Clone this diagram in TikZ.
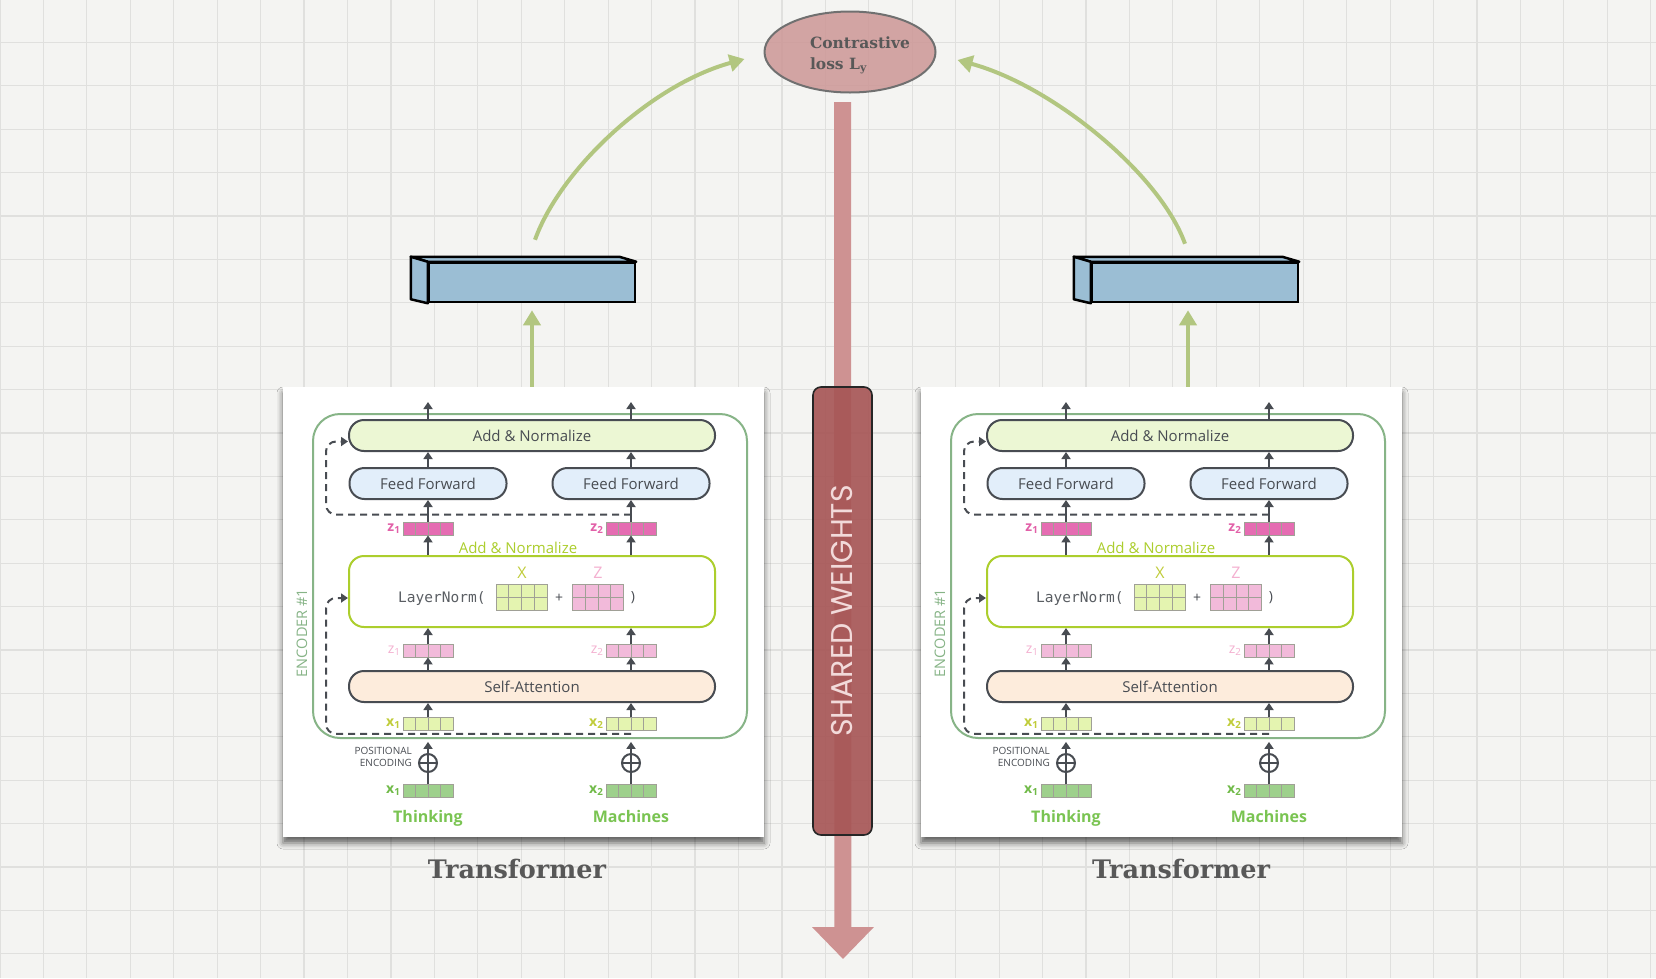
\documentclass[tikz,border=0pt]{standalone}
\usepackage{fontspec}
\usepackage{tikz}
\usetikzlibrary{arrows.meta,calc,positioning,shapes.geometric,shadows.blur}

\newfontfamily\encsans{Open Sans}
\newfontfamily\encmono{DejaVu Sans Mono}
\newfontfamily\slabserif{DejaVu Serif}
\newfontfamily\geosans{Poppins}

\definecolor{paper}{RGB}{244,244,242}
\definecolor{gridgray}{RGB}{224,224,222}
\definecolor{ink}{RGB}{72,76,82}
\definecolor{encgreen}{RGB}{135,180,135}
\definecolor{addfill}{RGB}{236,247,212}
\definecolor{fffill}{RGB}{226,238,250}
\definecolor{safill}{RGB}{253,236,220}
\definecolor{lngreen}{RGB}{172,206,45}
\definecolor{zdark}{RGB}{229,108,178}
\definecolor{zdarktext}{RGB}{226,96,168}
\definecolor{zlight}{RGB}{242,186,218}
\definecolor{zlighttext}{RGB}{244,176,208}
\definecolor{xlight}{RGB}{228,244,176}
\definecolor{xlighttext}{RGB}{192,204,58}
\definecolor{xemb}{RGB}{158,208,140}
\definecolor{xembtext}{RGB}{112,186,72}
\definecolor{cellline}{RGB}{160,160,150}
\definecolor{wordgreen}{RGB}{122,196,82}
\definecolor{arrowgreen}{RGB}{178,198,128}
\definecolor{barblue}{RGB}{155,190,212}
\definecolor{shaftpink}{RGB}{206,146,146}
\definecolor{sharedred}{RGB}{166,84,84}
\definecolor{sharedtext}{RGB}{242,218,218}
\definecolor{lossfill}{RGB}{205,150,150}
\definecolor{lossline}{RGB}{112,112,112}
\definecolor{slabgray}{RGB}{88,88,88}

\tikzset{
  gridline/.style={gridgray, line width=1.2pt},
  block/.style={draw=ink, line width=2pt, rounded corners=15pt, minimum height=31pt, inner sep=0pt,
    font=\encsans\fontsize{15}{18}\selectfont, text=ink},
  vec/.style={draw=cellline, line width=0.8pt, inner sep=0pt, minimum width=50pt, minimum height=13pt, fill=#1,
    path picture={\foreach \k in {1,2,3}
      \draw[cellline, line width=0.8pt] ($(path picture bounding box.south west)!\k/4!(path picture bounding box.south east)$) -- ($(path picture bounding box.north west)!\k/4!(path picture bounding box.north east)$);}},
  mat/.style={draw=cellline, line width=0.8pt, inner sep=0pt, minimum width=51pt, minimum height=26pt, fill=#1,
    path picture={\foreach \k in {1,2,3}
      \draw[cellline, line width=0.8pt] ($(path picture bounding box.south west)!\k/4!(path picture bounding box.south east)$) -- ($(path picture bounding box.north west)!\k/4!(path picture bounding box.north east)$);
      \draw[cellline, line width=0.8pt] (path picture bounding box.west) -- (path picture bounding box.east);}},
  veclab/.style={font=\encsans\bfseries\fontsize{14}{16}\selectfont, text=#1, inner sep=0pt},
  darr/.style={ink, line width=2pt, -{Triangle[width=9pt,length=7pt]}},
  resid/.style={ink, line width=2pt, dash pattern=on 7pt off 5pt, rounded corners=10pt, -{Triangle[width=9pt,length=7pt]}},
  garr/.style={arrowgreen, line width=4pt, -{Triangle[width=17pt,length=15pt]}},
  panel/.style={fill=white, minimum width=481pt, minimum height=450pt, inner sep=0pt,
    blur shadow={shadow xshift=0pt, shadow yshift=-6pt, shadow blur radius=6pt, shadow opacity=60}},
  encframe/.style={draw=encgreen, line width=2pt, rounded corners=27pt, minimum width=434pt, minimum height=324pt},
  pluscirc/.style={circle, draw=ink, line width=2pt, minimum size=18pt, inner sep=0pt, fill=white,
    path picture={\draw[ink, line width=2pt] (path picture bounding box.west) -- (path picture bounding box.east)
      (path picture bounding box.north) -- (path picture bounding box.south);}},
  vecbar/.style={draw=black, line width=2.5pt, fill=barblue, minimum width=206pt, minimum height=39pt, inner sep=0pt},
  slablab/.style={font=\slabserif\bfseries\fontsize{25.5}{30}\selectfont, text=slabgray},
}

\begin{document}
\begin{tikzpicture}[x=1pt, y=-1pt]
\useasboundingbox (0,0) rectangle (1656,978);
\fill[paper] (0,0) rectangle (1656,978);
% squared paper
\foreach \gx in {0,...,38}
  \draw[gridline] (\gx*43.44,0) -- (\gx*43.44,978);
\foreach \gy in {0,...,22}
  \draw[gridline] (0,\gy*43.4-1) -- (1656,\gy*43.4-1);

% shared weights
\coordinate (shafttop) at (842.5,102);
\coordinate (shafttip) at (843,959);
\draw[shaftpink, line width=17pt, -{Triangle[width=60pt,length=32pt]}] (shafttop) -- (shafttip);
\node[rotate=90, draw=black!85, line width=1.6pt, rounded corners=8pt, fill=sharedred, fill opacity=0.9, text opacity=1,
  minimum width=448pt, minimum height=59pt, inner sep=0pt, text=sharedtext,
  font=\geosans\fontsize{30}{34}\selectfont] (shared) at (842.5,611) {SHARED WEIGHTS};

% loss
\node[ellipse, draw=lossline, line width=2pt, fill=lossfill, fill opacity=0.85, minimum width=171pt, minimum height=81pt] (loss) at (850,52) {};
\node[align=left, inner sep=0pt, text=slabgray, font=\slabserif\bfseries\fontsize{15.5}{21}\selectfont] (losstxt) at (860,55) {Contrastive\\loss L\textsubscript{y}};

% sentence vectors
\node[vecbar] (embl) at (532,282.5) {};
\node[vecbar] (embr) at (1195,282.5) {};
\foreach \b in {embl,embr}{
  \filldraw[fill=barblue, draw=black, line width=2.5pt, line join=round]
    ([shift={(-17,-5)}]\b.north west) -- ([shift={(-17,-5)}]\b.north east) -- (\b.north east) -- (\b.north west) -- cycle;
  \filldraw[fill=barblue, draw=black, line width=2.5pt, line join=round]
    ([shift={(-17,-5)}]\b.north west) -- (\b.north west) -- (\b.south west) -- ([shift={(-17,-4)}]\b.south west) -- cycle;
}
\draw[garr] ([shift={(3,-22)}]embl.north) .. controls (560,170) and (650,85) .. ([shift={(-19,7)}]loss.west);
\draw[garr] ([shift={(-10,-18)}]embr.north) .. controls (1160,174) and (1053,86) .. ([shift={(21,8)}]loss.east);

\node[slablab] (tfl) at (517,869) {Transformer};
\node[slablab] (tfr) at (1181,869) {Transformer};

% two encoders
\foreach \dx/\sd in {0/l,638/r}{
\begin{scope}[xshift=\dx pt]
  \node[panel] (panel\sd) at (523.5,612) {};
  \node[encframe] (frame\sd) at (530,576) {};
  \node[rotate=90, text=encgreen, font=\encsans\fontsize{14.5}{16}\selectfont] (enclab\sd) at (302,633) {ENCODER \#1};
  \node[block, fill=addfill, minimum width=366pt] (addn\sd) at (532,435.5) {Add \& Normalize};
  \node[block, draw=lngreen, fill=white, minimum width=366pt, minimum height=71pt] (ln\sd) at (532,591.5) {};
  \node[block, fill=safill, minimum width=366pt] (sa\sd) at (532,686.5) {Self-Attention};
  \node[text=lngreen, font=\encsans\fontsize{15}{18}\selectfont, inner sep=0pt] (normlab\sd) at (518,548) {Add \& Normalize};
  \node[anchor=west, inner sep=0pt, text=ink!90, font=\encmono\fontsize{14.5}{17}\selectfont] (lnopen\sd) at (398,598) {LayerNorm(};
  \node[mat=xlight] (matx\sd) at (521.5,597) {};
  \node[text=ink, font=\encsans\fontsize{14}{16}\selectfont] (plus\sd) at (559,598) {+};
  \node[mat=zlight] (matz\sd) at (598,597) {};
  \node[text=ink, font=\encsans\fontsize{14}{16}\selectfont] (close\sd) at (633,598) {)};
  \node[text=xlighttext, font=\encsans\fontsize{16}{18}\selectfont] (matxlab\sd) at (522,573) {X};
  \node[text=zlighttext, font=\encsans\fontsize{16}{18}\selectfont] (matzlab\sd) at (598,573) {Z};
  \node[anchor=east, align=right, inner sep=0pt, text=ink, font=\encsans\fontsize{10}{11.5}\selectfont] (posenc\sd) at (412,757) {POSITIONAL\\ENCODING};
  \foreach \c/\n/\cx/\word in {a/1/428/Thinking, b/2/631/Machines}{
    \node[block, fill=fffill, minimum width=157pt] (ff\c\sd) at (\cx,483.5) {Feed Forward};
    \node[vec=zdark] (zd\c\sd) at (\cx,528.5) {};
    \node[vec=zlight] (zl\c\sd) at (\cx,650.5) {};
    \node[vec=xlight] (xl\c\sd) at (\cx,724) {};
    \node[pluscirc] (pe\c\sd) at (\cx,763) {};
    \node[vec=xemb] (xe\c\sd) at (\cx,791) {};
    \node[veclab=zdarktext, left=2pt of zd\c\sd] (zdlab\c\sd) {z\textsubscript{\n}};
    \node[veclab=zlighttext, font=\encsans\fontsize{14}{16}\selectfont, left=2pt of zl\c\sd] (zllab\c\sd) {z\textsubscript{\n}};
    \node[veclab=xlighttext, left=2pt of xl\c\sd] (xllab\c\sd) {x\textsubscript{\n}};
    \node[veclab=xembtext, left=2pt of xe\c\sd] (xelab\c\sd) {x\textsubscript{\n}};
    \node[anchor=base, text=wordgreen, font=\encsans\bfseries\fontsize{16}{18}\selectfont] (word\c\sd) at (\cx,822) {\word};
    \coordinate (out\c\sd) at (\cx,402);
    \draw[darr] (zd\c\sd.north) -- (zd\c\sd.north |- ff\c\sd.south);
    \draw[darr] (zd\c\sd.north |- ff\c\sd.north) -- (zd\c\sd.north |- addn\sd.south);
    \draw[darr] (zd\c\sd.north |- addn\sd.north) -- (out\c\sd);
    \draw[darr] (zd\c\sd.south |- ln\sd.north) -- (zd\c\sd.south);
    \draw[darr] (zl\c\sd.north) -- (zl\c\sd.north |- ln\sd.south);
    \draw[darr] (zl\c\sd.south |- sa\sd.north) -- (zl\c\sd.south);
    \draw[darr] (xl\c\sd.north) -- (xl\c\sd.north |- sa\sd.south);
    \draw[darr, shorten >=11pt] (pe\c\sd.north) -- (xl\c\sd.south);
    \draw[ink, line width=2pt] (xe\c\sd.north) -- (pe\c\sd.south);
  }
  % residual connections
  \draw[resid] ([yshift=7pt]zdb\sd.north) -| ([shift={(-22,6)}]addn\sd.west) -- ([yshift=-6pt]addn\sd.west);
  \draw[resid] ([yshift=-3pt]xlb\sd.south) -| ([shift={(-22,6.5)}]ln\sd.west) -- ([yshift=-6.5pt]ln\sd.west);
\end{scope}
}
\coordinate (embrin) at ([shift={(-7,7)}]embr.south);
\draw[garr] (panell.north -| embl.south) -- ([yshift=-7pt]embl.south);
\draw[garr] (panelr.north -| embrin) -- (embrin);
\end{tikzpicture}
\end{document}
